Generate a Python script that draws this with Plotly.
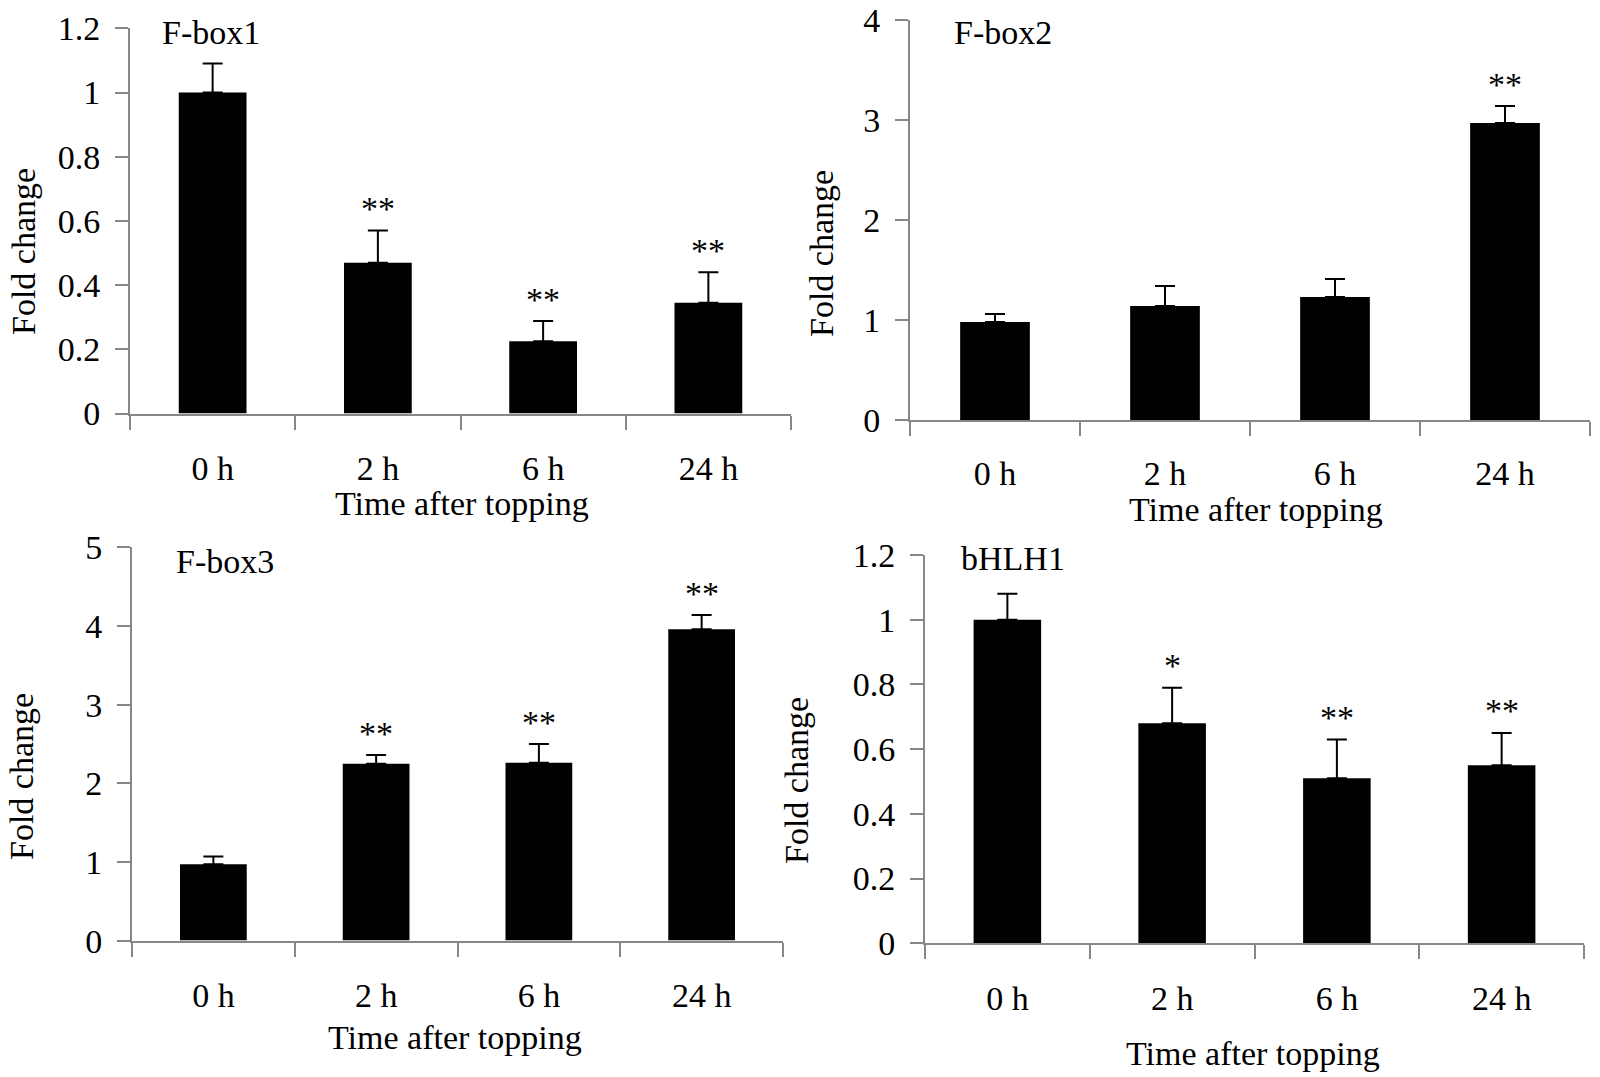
import plotly.graph_objects as go

# ---------------- data ----------------
categories = ["0 h", "2 h", "6 h", "24 h"]

fbox1_mean = [1.0, 0.47, 0.225, 0.345]
fbox1_err = [0.09, 0.10, 0.063, 0.095]
fbox1_sig = ["", "**", "**", "**"]

fbox2_mean = [0.98, 1.14, 1.23, 2.97]
fbox2_err = [0.08, 0.20, 0.18, 0.17]
fbox2_sig = ["", "", "", "**"]

fbox3_mean = [0.97, 2.25, 2.26, 3.96]
fbox3_err = [0.10, 0.11, 0.24, 0.18]
fbox3_sig = ["", "**", "**", "**"]

bhlh1_mean = [1.0, 0.68, 0.51, 0.55]
bhlh1_err = [0.08, 0.11, 0.12, 0.10]
bhlh1_sig = ["", "*", "**", "**"]

gene_names = ["F-box1", "F-box2", "F-box3", "bHLH1"]
y_max = [1.2, 4, 5, 1.2]
y_dtick = [0.2, 1, 1, 0.2]
x_title = "Time after topping"
y_title = "Fold change"

# ---------------- layout geometry (pixels) ----------------
W, H = 1600, 1077
FONT = "Liberation Serif, Times New Roman, serif"
AX = "#878787"

# left, right, top, bottom of each plot area in pixels
boxes = [
    (130, 791, 28.3, 413.5),
    (910, 1590, 20, 420),
    (132, 783, 547.4, 940.6),
    (925, 1584, 555, 943.3),
]
ytitle_pos = [(23, 252), (821, 254), (21, 777), (796, 781)]
xtitle_pos = [(462, 503), (1256, 509), (455, 1037), (1253, 1053)]
gene_pos = [(211, 33), (1003, 33), (225, 561), (1013, 558)]
label_standoff = [24, 22, 24, 24]


def px(x):
    return x / W


def py(y):
    return 1 - y / H


means = [fbox1_mean, fbox2_mean, fbox3_mean, bhlh1_mean]
errs = [fbox1_err, fbox2_err, fbox3_err, bhlh1_err]
sigs = [fbox1_sig, fbox2_sig, fbox3_sig, bhlh1_sig]

fig = go.Figure()
annotations = []
layout = dict(
    width=W,
    height=H,
    margin=dict(l=0, r=0, t=0, b=0, pad=0, autoexpand=False),
    paper_bgcolor="white",
    plot_bgcolor="white",
    showlegend=False,
    bargap=0.59,
    font=dict(family=FONT, size=34, color="black"),
)

for i in range(4):
    n = "" if i == 0 else str(i + 1)
    xa, ya = "x" + n, "y" + n
    fig.add_trace(
        go.Bar(
            x=categories,
            y=means[i],
            xaxis=xa,
            yaxis=ya,
            marker=dict(color="black", line=dict(width=0)),
            error_y=dict(
                type="data",
                array=errs[i],
                arrayminus=[0] * len(errs[i]),
                symmetric=False,
                color="black",
                thickness=2,
                width=10,
            ),
            width=0.41,
        )
    )
    l, r, t, b = boxes[i]
    layout["xaxis" + n] = dict(
        domain=[px(l), px(r)],
        anchor=ya,
        type="category",
        range=[-0.5, 3.5],
        automargin=False,
        showline=True,
        linecolor=AX,
        linewidth=2,
        ticks="outside",
        tickson="boundaries",
        ticklen=14,
        tickwidth=2,
        tickcolor=AX,
        tickfont=dict(family=FONT, size=34, color="black"),
        ticklabelstandoff=label_standoff[i],
        showgrid=False,
        zeroline=False,
    )
    layout["yaxis" + n] = dict(
        domain=[py(b), py(t)],
        anchor=xa,
        range=[0, y_max[i]],
        automargin=False,
        tick0=0,
        dtick=y_dtick[i],
        showline=True,
        linecolor=AX,
        linewidth=2,
        ticks="outside",
        ticklen=13,
        tickwidth=2,
        tickcolor=AX,
        tickfont=dict(family=FONT, size=34, color="black"),
        ticklabelstandoff=8,
        showgrid=False,
        zeroline=False,
    )
    # significance marks
    for c, m, e, s in zip(categories, means[i], errs[i], sigs[i]):
        if s:
            annotations.append(
                dict(
                    x=c,
                    y=m + e,
                    xref=xa,
                    yref=ya,
                    text=s,
                    showarrow=False,
                    yanchor="middle",
                    yshift=22,
                    font=dict(family=FONT, size=34, color="black"),
                )
            )
    # gene label
    gx, gy = gene_pos[i]
    annotations.append(
        dict(
            x=px(gx), y=py(gy), xref="paper", yref="paper", text=gene_names[i],
            showarrow=False, xanchor="center", yanchor="middle",
            font=dict(family=FONT, size=34, color="black"),
        )
    )
    # axis titles
    tx, ty = xtitle_pos[i]
    annotations.append(
        dict(
            x=px(tx), y=py(ty), xref="paper", yref="paper", text=x_title,
            showarrow=False, xanchor="center", yanchor="middle",
            font=dict(family=FONT, size=34, color="black"),
        )
    )
    vx, vy = ytitle_pos[i]
    annotations.append(
        dict(
            x=px(vx), y=py(vy), xref="paper", yref="paper", text=y_title,
            showarrow=False, xanchor="center", yanchor="middle", textangle=-90,
            font=dict(family=FONT, size=34, color="black"),
        )
    )

layout["annotations"] = annotations
fig.update_layout(**layout)
fig.write_html(
    "out.html",
    config={"displayModeBar": False},
    post_script="document.body.style.margin='0';document.body.style.overflow='hidden';",
)
